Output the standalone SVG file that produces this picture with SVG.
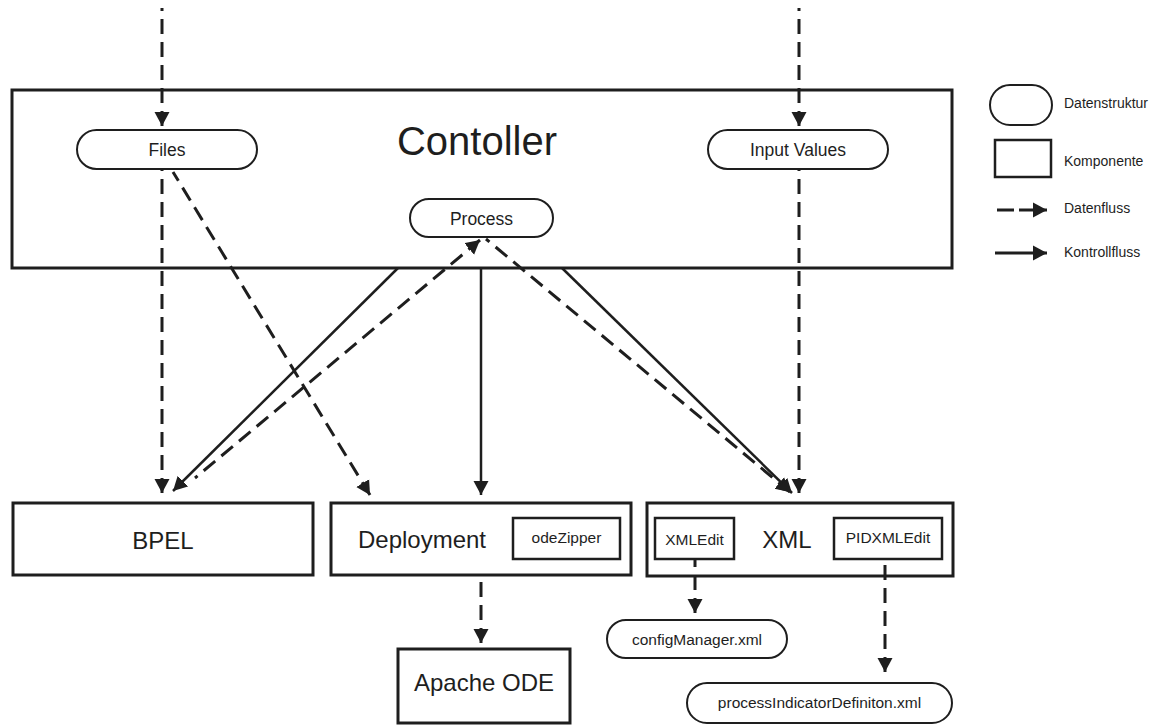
<svg xmlns="http://www.w3.org/2000/svg" width="1164" height="725" viewBox="0 0 1164 725">
  <defs>
    <!-- arrowhead; data lines are drawn from the tip back so a dash always meets the head -->
    <marker id="arrow" markerUnits="userSpaceOnUse" markerWidth="15" markerHeight="16" refX="14" refY="8" orient="auto" viewBox="0 0 15 16">
      <path d="M0,0.5 L14,8 L0,15.5 z" fill="#1e1e1e"/>
    </marker>
    <marker id="arrow-start" markerUnits="userSpaceOnUse" markerWidth="15" markerHeight="16" refX="14" refY="8" orient="auto-start-reverse" viewBox="0 0 15 16">
      <path d="M0,0.5 L14,8 L0,15.5 z" fill="#1e1e1e"/>
    </marker>
    <style>
      text { font-family: "Liberation Sans", Arial, Helvetica, sans-serif; fill: #1e1e1e; text-anchor: middle; }
      .box { fill: #fff; stroke: #1e1e1e; stroke-width: 3; }
      .inner { fill: #fff; stroke: #1e1e1e; stroke-width: 2.5; }
      .pill { fill: #fff; stroke: #1e1e1e; stroke-width: 2; }
      .data { fill: none; stroke: #1e1e1e; stroke-width: 3; stroke-dasharray: 15 8; marker-start: url(#arrow-start); }
      .ctrl { fill: none; stroke: #1e1e1e; stroke-width: 2.5; marker-end: url(#arrow); }
      .big { font-size: 40px; }
      .comp { font-size: 24px; }
      .label { font-size: 17.5px; }
      .small { font-size: 15.5px; }
      .legend { font-size: 14px; text-anchor: start; }
    </style>
  </defs>

  <!-- Controller component with its data structures -->
  <g id="controller">
    <rect class="box" x="12" y="90" width="940" height="178"/>
    <text class="big" x="477" y="155">Contoller</text>
  </g>
  <g id="files">
    <rect class="pill" x="77" y="130" width="180" height="39" rx="19.5"/>
    <text class="label" x="167" y="156">Files</text>
  </g>
  <g id="input-values">
    <rect class="pill" x="708" y="130" width="180" height="39" rx="19.5"/>
    <text class="label" x="798" y="156">Input Values</text>
  </g>
  <g id="process">
    <rect class="pill" x="410" y="199" width="143" height="38" rx="19"/>
    <text class="label" x="481.5" y="225">Process</text>
  </g>

  <!-- Lower components -->
  <g id="bpel">
    <rect class="box" x="13" y="503" width="300" height="72"/>
    <text class="comp" x="163" y="549">BPEL</text>
  </g>
  <g id="deployment">
    <rect class="box" x="331" y="503" width="300" height="72"/>
    <text class="comp" x="422" y="548">Deployment</text>
  </g>
  <g id="odezipper">
    <rect class="inner" x="513" y="518" width="107" height="41"/>
    <text class="small" x="566.5" y="543">odeZipper</text>
  </g>
  <g id="xml">
    <rect class="box" x="647" y="503" width="306" height="73"/>
    <text class="comp" x="787" y="548">XML</text>
  </g>
  <g id="xmledit">
    <rect class="inner" x="655" y="518" width="79" height="41"/>
    <text class="small" x="694.5" y="545">XMLEdit</text>
  </g>
  <g id="pidxmledit">
    <rect class="inner" x="834" y="518" width="108" height="41"/>
    <text class="small" x="888" y="543">PIDXMLEdit</text>
  </g>
  <g id="apache-ode">
    <rect class="box" x="398" y="649" width="172" height="74"/>
    <text class="comp" x="484" y="691">Apache ODE</text>
  </g>
  <g id="config-manager">
    <rect class="pill" x="607" y="620" width="180" height="38" rx="19"/>
    <text class="small" x="697" y="645">configManager.xml</text>
  </g>
  <g id="process-indicator">
    <rect class="pill" x="687" y="683" width="265" height="40" rx="20"/>
    <text class="small" x="819.5" y="708">processIndicatorDefiniton.xml</text>
  </g>

  <!-- Connectors: dashed = data flow (tip first), solid = control flow -->
  <g id="connectors">
    <line class="data" x1="162" y1="126" x2="162" y2="8"/>
    <line class="data" x1="799" y1="126" x2="799" y2="8"/>
    <line class="data" x1="162" y1="493" x2="162" y2="170"/>
    <line class="data" x1="370" y1="495" x2="173" y2="172"/>
    <line class="ctrl" x1="398" y1="268" x2="173" y2="491"/>
    <line class="data" x1="480" y1="240" x2="195" y2="478"/>
    <line class="ctrl" x1="481" y1="268" x2="481" y2="495"/>
    <line class="data" x1="790" y1="492" x2="486" y2="239"/>
    <line class="ctrl" x1="562" y1="268" x2="792" y2="493"/>
    <line class="data" x1="799" y1="493" x2="799" y2="170"/>
    <line class="data" x1="481" y1="643" x2="481" y2="577"/>
    <line class="data" x1="695" y1="613" x2="695" y2="560"/>
    <line class="data" x1="885" y1="672" x2="885" y2="560"/>
  </g>

  <!-- Legend -->
  <g id="legend">
    <rect class="pill" x="990" y="85" width="62" height="40" rx="20"/>
    <text class="legend" x="1064" y="108">Datenstruktur</text>
    <rect class="inner" x="995" y="140" width="56" height="37"/>
    <text class="legend" x="1064" y="166">Komponente</text>
    <line class="data" x1="1047" y1="210" x2="995" y2="210" style="stroke-dasharray: 28 5 17"/>
    <text class="legend" x="1064" y="213">Datenfluss</text>
    <line class="ctrl" x1="995" y1="253" x2="1047" y2="253" style="stroke-width: 3"/>
    <text class="legend" x="1064" y="257">Kontrollfluss</text>
  </g>
</svg>
